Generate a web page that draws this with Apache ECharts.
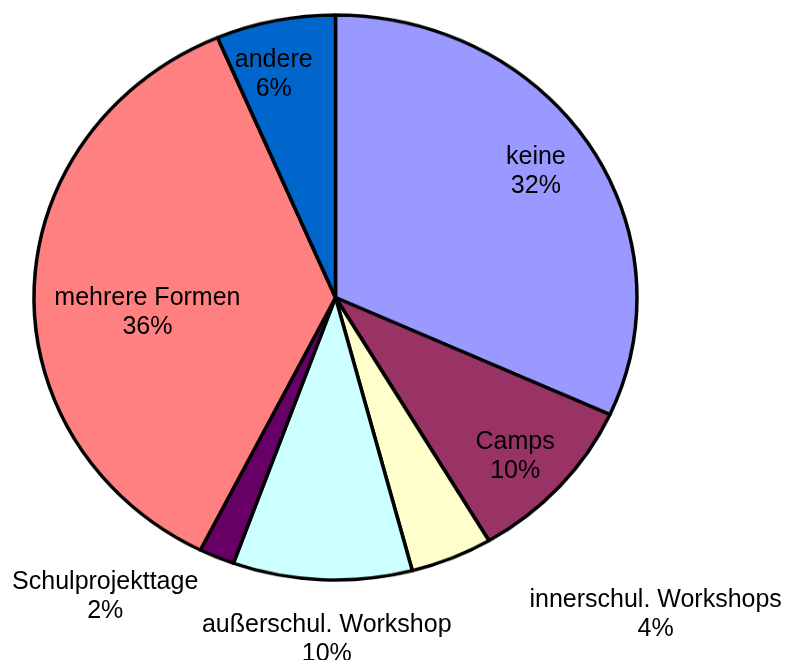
<!DOCTYPE html>
<html>
<head>
<meta charset="utf-8">
<script src="https://cdn.jsdelivr.net/npm/echarts@6/dist/echarts.min.js"></script>
<style>
html,body{margin:0;padding:0;background:#fff;}
#wrap{position:relative;width:785px;height:660px;overflow:hidden;}
#pie{position:absolute;left:0;top:-30px;width:785px;height:720px;transform:scaleY(0.937);transform-origin:0 327.5px;}
#lab{position:absolute;left:0;top:0;width:785px;height:660px;}
</style>
</head>
<body>
<div id="wrap"><div id="pie"></div><div id="lab"></div></div>
<script>
// ---- data ----
const categories = ['keine', 'Camps', 'innerschul. Workshops', 'außerschul. Workshop', 'Schulprojekttage', 'mehrere Formen', 'andere'];
const values = [31.8, 9.7, 4.4, 9.6, 1.9, 36.2, 6.4];
const colors = ['#9999FF', '#993366', '#FFFFCC', '#CCFFFF', '#660066', '#FF8080', '#0066CC'];

// ---- layout / style ----
const CX = 335.5, CY = 297.5, R = 301.5, K = 0.937, PIE_SHIFT = 30;
const labelNudge = {
  'keine': [-5, -2],
  'Camps': [-2, 6],
  'innerschul. Workshops': [226, 106],
  'außerschul. Workshop': [2, 114],
  'Schulprojekttage': [-134, 89],
  'mehrere Formen': [56, 22],
  'andere': [-13, 1]
};

const seriesData = categories.map((c, i) => ({ name: c, value: values[i], itemStyle: { color: colors[i] } }));

const pieChart = echarts.init(document.getElementById('pie'), null, { renderer: 'canvas' });
pieChart.setOption({
  animation: false,
  series: [{
    type: 'pie',
    center: [CX, CY + PIE_SHIFT],
    radius: R,
    startAngle: 90,
    clockwise: true,
    silent: true,
    label: { show: false },
    labelLine: { show: false },
    itemStyle: { borderColor: '#000', borderWidth: 3.5 },
    data: seriesData
  }]
});

const labChart = echarts.init(document.getElementById('lab'), null, { renderer: 'canvas' });
labChart.setOption({
  animation: false,
  series: [{
    type: 'pie',
    center: [CX, CY],
    radius: [0.6 * R, R],
    startAngle: 90,
    clockwise: true,
    silent: true,
    avoidLabelOverlap: false,
    itemStyle: { color: 'rgba(0,0,0,0)', borderWidth: 0 },
    label: {
      show: true,
      position: 'inside',
      color: '#000',
      fontFamily: '"Liberation Sans", Arial, sans-serif',
      fontSize: 25,
      lineHeight: 29,
      align: 'center',
      formatter: p => p.name + '\n' + Math.round(p.percent) + '%'
    },
    labelLine: { show: false },
    labelLayout: function (params) {
      const r = params.labelRect;
      const lx = r.x + r.width / 2;
      const ly = r.y + r.height / 2;
      const n = labelNudge[categories[params.dataIndex]] || [0, 0];
      return {
        x: lx + n[0],
        y: CY + (ly - CY) * K + n[1],
        align: 'center',
        verticalAlign: 'middle'
      };
    },
    data: categories.map((c, i) => ({ name: c, value: values[i] }))
  }]
});
</script>
</body>
</html>
